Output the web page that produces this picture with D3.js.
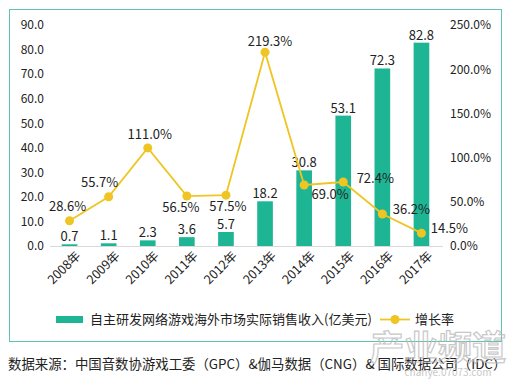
<!DOCTYPE html>
<html><head><meta charset="utf-8">
<script src="https://cdn.jsdelivr.net/npm/d3@7"></script>
<style>
html,body{margin:0;padding:0;background:#fff;}
text{font-family:"Microsoft YaHei","Noto Sans CJK SC","Noto Sans",sans-serif;}
</style></head>
<body>
<svg id="c" width="512" height="380"></svg>
<script>
const years = ["2008年","2009年","2010年","2011年","2012年","2013年","2014年","2015年","2016年","2017年"];
const revenue = [0.7,1.1,2.3,3.6,5.7,18.2,30.8,53.1,72.3,82.8];
const growth = [28.6,55.7,111.0,56.5,57.5,219.3,69.0,72.4,36.2,14.5];
const leftTicks = [0,10,20,30,40,50,60,70,80,90];
const rightTicks = [0,50,100,150,200,250];
const seriesNames = ["自主研发网络游戏海外市场实际销售收入(亿美元)","增长率"];
const sourceText = "数据来源：中国音数协游戏工委（GPC）&伽马数据（CNG）& 国际数据公司（IDC）";
// label offsets for growth labels [dx, dy] relative to point
const gLabelPos = [[-2,-13],[-9,-13],[2,-12],[-6,12],[2,12],[5,-10],[26,10],[32,-3],[29,-4],[28,-4]];

const teal = "#1DB594", yellow = "#EFC523";
const svg = d3.select("#c");
const x = d3.scaleBand().domain(years).range([50,441]).paddingInner(0.6).paddingOuter(0.3);
const yL = d3.scaleLinear().domain([0,90]).range([246,25]);
const yR = d3.scaleLinear().domain([0,250]).range([246,25]);

// frame
svg.append("rect").attr("x",9.5).attr("y",9.5).attr("width",492).attr("height",332)
  .attr("fill","none").attr("stroke","#5EC3B3").attr("stroke-width",1);

// left axis
const gl = svg.append("g").attr("transform","translate(44,0)")
  .call(d3.axisLeft(yL).tickValues(leftTicks).tickFormat(d3.format(".1f")).tickSize(0).tickPadding(0));
gl.select(".domain").remove();
gl.selectAll("text").attr("font-size",12).attr("fill","#222");
// right axis
const gr = svg.append("g").attr("transform","translate(450,0)")
  .call(d3.axisRight(yR).tickValues(rightTicks).tickFormat(d=>d.toFixed(1)+"%").tickSize(0).tickPadding(0));
gr.select(".domain").remove();
gr.selectAll("text").attr("font-size",12).attr("fill","#222");

// baseline
svg.append("line").attr("x1",50).attr("x2",443).attr("y1",246.5).attr("y2",246.5)
  .attr("stroke","#d9d9d9").attr("stroke-width",1);

// bars
svg.selectAll("rect.bar").data(revenue).join("rect").attr("class","bar")
  .attr("x",(d,i)=>x(years[i])).attr("width",x.bandwidth())
  .attr("y",d=>yL(d)).attr("height",d=>yL(0)-yL(d)).attr("fill",teal);
svg.selectAll("text.bl").data(revenue).join("text").attr("class","bl")
  .attr("x",(d,i)=>x(years[i])+x.bandwidth()/2).attr("y",d=>yL(d)-3)
  .attr("text-anchor","middle").attr("font-size",13).attr("fill","#222")
  .text(d=>d.toFixed(1));

// x labels
const xa = svg.append("g").attr("transform","translate(0,247)")
  .call(d3.axisBottom(x).tickSize(0).tickPadding(0));
xa.select(".domain").remove();
xa.selectAll("text").attr("font-size",12.5).attr("fill","#222")
  .attr("text-anchor","end").attr("dy","0.7em").attr("dx","0.3em")
  .attr("transform","translate(3,6) rotate(-45)");

// line
const cx = (d,i)=>x(years[i])+x.bandwidth()/2;
const line = d3.line().x((d,i)=>cx(d,i)).y(d=>yR(d));
svg.append("path").datum(growth).attr("d",line).attr("fill","none")
  .attr("stroke",yellow).attr("stroke-width",1.8);
svg.selectAll("circle.pt").data(growth).join("circle").attr("class","pt")
  .attr("cx",cx).attr("cy",d=>yR(d)).attr("r",4.5).attr("fill",yellow);
svg.selectAll("text.gl").data(growth).join("text").attr("class","gl")
  .attr("x",(d,i)=>cx(d,i)+gLabelPos[i][0]).attr("y",(d,i)=>yR(d)+gLabelPos[i][1])
  .attr("text-anchor","middle").attr("dominant-baseline","middle")
  .attr("font-size",13).attr("fill","#222").text(d=>d.toFixed(1)+"%");

// legend
const lg = svg.append("g");
lg.append("rect").attr("x",56).attr("y",316).attr("width",27).attr("height",7).attr("fill",teal);
lg.append("text").attr("x",90).attr("y",320).attr("dominant-baseline","middle")
  .attr("font-size",13).attr("fill","#222").text(seriesNames[0]);
lg.append("line").attr("x1",380).attr("x2",410).attr("y1",319.5).attr("y2",319.5)
  .attr("stroke",yellow).attr("stroke-width",1.8);
lg.append("circle").attr("cx",395).attr("cy",319.5).attr("r",4.5).attr("fill",yellow);
lg.append("text").attr("x",415).attr("y",320).attr("dominant-baseline","middle")
  .attr("font-size",13).attr("fill","#222").text(seriesNames[1]);

// source
svg.append("text").attr("x",8).attr("y",365).attr("dominant-baseline","middle")
  .attr("font-size",13.4).attr("fill","#222").text(sourceText);

// watermark
svg.append("text").attr("x",438).attr("y",360).attr("text-anchor","middle")
  .attr("font-size",34).attr("font-weight","bold").attr("fill","none")
  .attr("stroke","#bbb").attr("stroke-width",1.2).attr("opacity",0.8).text("产业频道");
svg.append("text").attr("x",448).attr("y",376).attr("text-anchor","middle")
  .attr("font-size",10).attr("fill","#bbb").attr("opacity",0.8).text("chanye.07073.com");
</script>
</body></html>
